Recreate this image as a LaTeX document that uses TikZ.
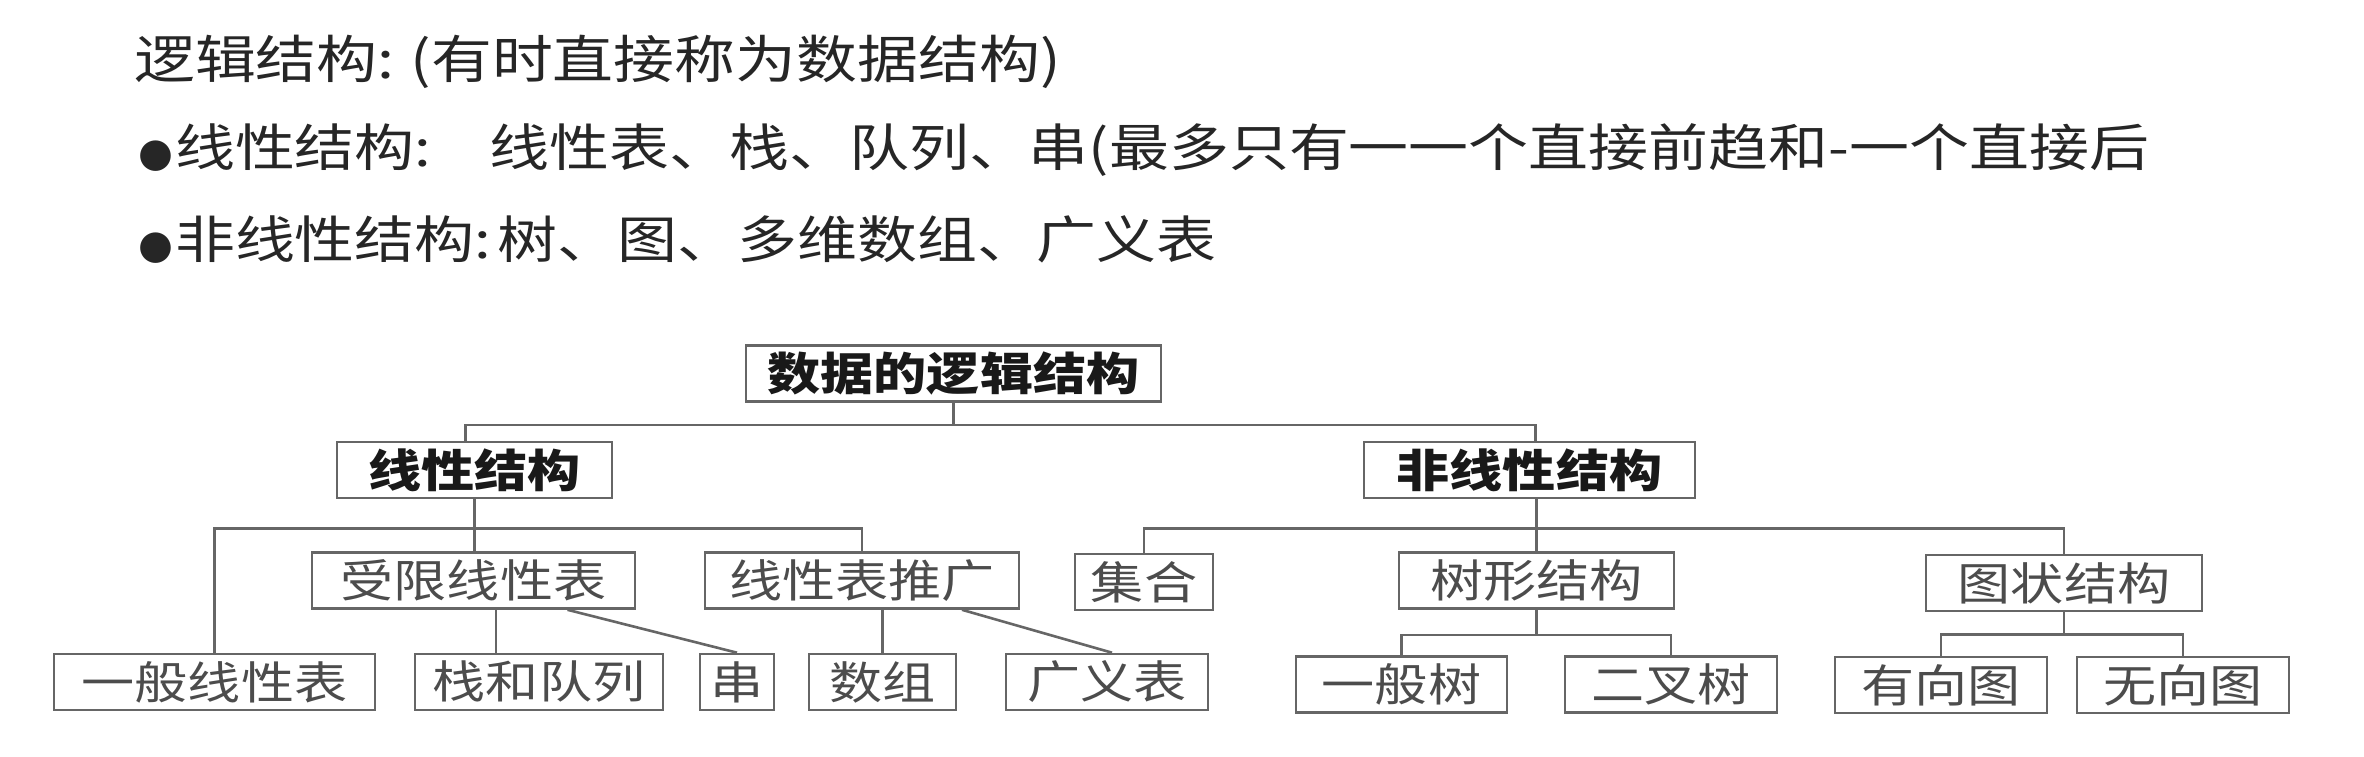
\documentclass[tikz,border=0pt]{standalone}
\usepackage{fontspec}
\newfontfamily\cjk[FakeStretch=1.18]{Noto Sans CJK SC}
\newfontfamily\dotfont{DejaVu Sans}
\usepackage{tikz}

\begin{document}
\begin{tikzpicture}[x=1pt,y=-1pt,
  line/.style={draw=black!60,line width=2.6pt},
  box/.style={draw=black!60,line width=2.6pt,minimum height=56pt,inner sep=0pt,
    font=\cjk\fontsize{45}{50}\selectfont,text=black!70},
  headbox/.style={box,font=\cjk\bfseries\fontsize{45}{50}\selectfont,text=black!90},
  hdr/.style={anchor=west,inner sep=0pt,font=\cjk\fontsize{50.8}{60}\selectfont,text=black!85}]

\useasboundingbox (0,0) rectangle (2364,756);

\node[hdr,font=\cjk\fontsize{51.6}{60}\selectfont] (t1) at (134,62) {逻辑结构:\hspace{16pt}(有时直接称为数据结构)};
\node[hdr] (t2) at (138,150) {{\dotfont\fontsize{40}{40}\selectfont ●}\hspace{2pt}线性结构:\hspace{58pt}线性表、栈、队列、串(最多只有一一个直接前趋和-一个直接后};
\node[hdr] (t3) at (138,240) {{\dotfont\fontsize{40}{40}\selectfont ●}\hspace{2pt}非线性结构:\hspace{6pt}树、图、多维数组、广义表};

\node[headbox,minimum width=415pt] (root) at (953.5,373.5) {数据的逻辑结构};

\node[headbox,minimum width=275pt] (lin) at (474.5,470) {线性结构};
\node[headbox,minimum width=331pt] (nonlin) at (1529.5,470) {非线性结构};

\node[box,minimum width=323pt] (limited) at (473.5,580.5) {受限线性表};
\node[box,minimum width=314pt] (general) at (862,580.5) {线性表推广};
\node[box,minimum width=138pt] (set) at (1144,582) {集合};
\node[box,minimum width=275pt] (tree) at (1536.5,580.5) {树形结构};
\node[box,minimum width=276pt] (graph) at (2064,583) {图状结构};

\node[box,minimum width=321pt] (plain) at (214.5,682) {一般线性表};
\node[box,minimum width=248pt] (stack) at (539,682) {栈和队列};
\node[box,minimum width=74pt] (string) at (737,682) {串};
\node[box,minimum width=147pt] (array) at (882.5,682) {数组};
\node[box,minimum width=202pt] (glist) at (1107,682) {广义表};
\node[box,minimum width=211pt] (gtree) at (1401.5,684.5) {一般树};
\node[box,minimum width=212pt] (btree) at (1671,684.5) {二叉树};
\node[box,minimum width=212pt] (dgraph) at (1941,685) {有向图};
\node[box,minimum width=212pt] (ugraph) at (2183,685) {无向图};

\draw[line] (root.south) -- ++(0,22) -| ([xshift=-9pt]lin.north);
\draw[line] (root.south) -- ++(0,22) -| ([xshift=6pt]nonlin.north);

\draw[line] (lin.south) -- (lin.south |- limited.north);
\draw[line] (plain.north) |- ([yshift=23pt]limited.north) -| (general.north);
\draw[line] ([xshift=-43pt]stack.north) -- ([xshift=-43pt]stack.north |- limited.south);
\draw[line] ([xshift=94pt]limited.south) -- (string.north);
\draw[line] (array.north) -- (array.north |- general.south);
\draw[line] ([xshift=100pt]general.south) -- ([xshift=5pt]glist.north);

\draw[line] (tree.north) -- (tree.north |- nonlin.south);
\draw[line] (set.north) |- ([yshift=23pt]tree.north) -| (graph.north);

\draw[line] (tree.south) -- ++(0,25) coordinate (tb);
\draw[line] (gtree.north) |- (tb) -| (btree.north);
\draw[line] (graph.south) -- ++(0,22) coordinate (gb);
\draw[line] (dgraph.north) |- (gb) -| (ugraph.north);

\end{tikzpicture}
\end{document}
